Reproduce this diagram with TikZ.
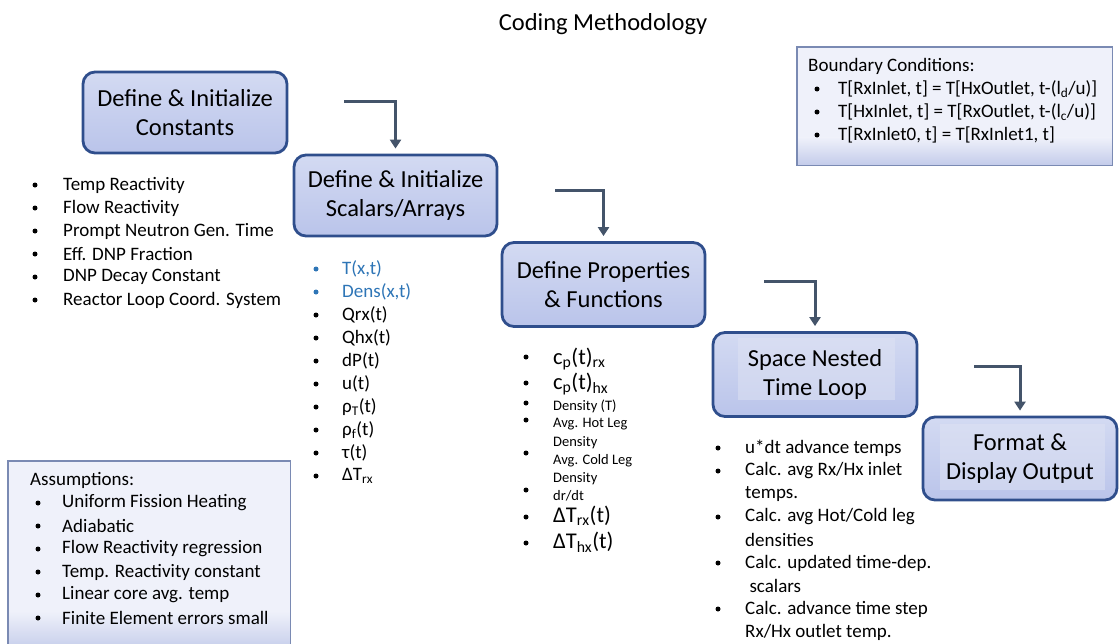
\documentclass[tikz,border=0pt]{standalone}
\usepackage{fontspec}
\setmainfont{Carlito}
\usetikzlibrary{arrows.meta}
\definecolor{boxedge}{HTML}{2F4E8C}
\definecolor{boxtop}{HTML}{D3DAF2}
\definecolor{boxmid}{HTML}{F0F2FC}
\definecolor{boxbot}{HTML}{BAC4EA}
\definecolor{noteedge}{HTML}{7A8AB3}
\definecolor{notefill}{HTML}{EFF1FA}
\definecolor{noteband}{HTML}{C3CBEA}
\definecolor{innerfill}{HTML}{DFE3F3}
\definecolor{arrowcol}{HTML}{44546A}
\definecolor{hilite}{HTML}{2E75B6}
\tikzset{
  stepbox/.style={draw=boxedge, line width=2.8pt, rounded corners=12pt,
    top color=boxtop, middle color=boxmid, bottom color=boxbot, align=center,
    font=\fontsize{24.5}{29}\selectfont, text=black},
  steptext/.style={align=center, font=\fontsize{24.5}{29}\selectfont},
  notebox/.style={fill=notefill},
  noteline/.style={draw=noteedge, line width=1.3pt},
  flow/.style={draw=arrowcol, line width=3pt,
    -{Triangle[width=11pt,length=9pt]}},
  item/.style={anchor=west, inner sep=0pt, font=\fontsize{19}{22}\selectfont},
  small/.style={anchor=west, inner sep=0pt, font=\fontsize{14.5}{16}\selectfont},
  big/.style={anchor=west, inner sep=0pt, font=\fontsize{22.5}{25}\selectfont},
  head/.style={anchor=west, inner sep=0pt, font=\fontsize{19}{22}\selectfont},
}
\begin{document}
\begin{tikzpicture}[x=1pt, y=-1pt]
\useasboundingbox (0,0) rectangle (1119,643);

% title
\node[font=\fontsize{24.5}{28}\selectfont] (title) at (603,24) {Coding Methodology};

% process steps
\node[stepbox, minimum width=204pt, minimum height=81pt] (b1) at (185,112.5) {Define \& Initialize\\Constants};
\node[stepbox, minimum width=203pt, minimum height=81pt] (b2) at (395.5,195.5) {Define \& Initialize\\Scalars/Arrays};
\node[stepbox, minimum width=203pt, minimum height=84pt] (b3) at (603.5,284.5) {Define Properties\\\& Functions};
\node[stepbox, minimum width=204pt, minimum height=84pt] (b4) at (815,374.5) {};
\fill[innerfill, opacity=0.5] (738,338) rectangle (895,400);
\node[steptext] (t4) at (b4.center) {Space Nested\\Time Loop};
\node[stepbox, minimum width=194pt, minimum height=83pt] (b5) at (1020,458.5) {};
\fill[innerfill, opacity=0.5] (940,424) rectangle (1105,490);
\node[steptext] (t5) at (b5.center) {Format \&\\Display Output};

% elbow connectors
\coordinate (a1) at (344,101);
\coordinate (a2) at (555,190);
\coordinate (a3) at (764,281);
\coordinate (a4) at (974,366);
\draw[flow] (a1) -| ([yshift=5pt]b2.north);
\draw[flow] (a2) -| ([yshift=5pt]b3.north);
\draw[flow] (a3) -| ([yshift=5pt]b4.north);
\draw[flow] (a4) -| ([yshift=5pt]b5.north);

% constants list
\foreach \t [count=\i] in {Temp Reactivity, Flow Reactivity, Prompt Neutron Gen. Time,
    Eff. DNP Fraction, DNP Decay Constant, Reactor Loop Coord. System}{
  \node[item] (c\i) at (63,{185+23*(\i-1)}) {\t};
  \fill (35,{185+23*(\i-1)}) circle (2.5);
}

% scalars / arrays list
\foreach \t/\c [count=\i] in {T(x{,}t)/hilite, Dens(x{,}t)/hilite, Qrx(t)/black, Qhx(t)/black,
    dP(t)/black, u(t)/black, ρ\textsubscript{T}(t)/black, ρ\textsubscript{f}(t)/black,
    τ(t)/black, ΔT\textsubscript{rx}/black}{
  \node[item, text=\c] (s\i) at (342,{269+23*(\i-1)}) {\t};
  \fill[\c] (316,{269+23*(\i-1)}) circle (2.5);
}

% properties list
\node[big] (p1) at (553,359) {c\textsubscript{p}(t)\textsubscript{rx}};
\node[big] (p2) at (553,384) {c\textsubscript{p}(t)\textsubscript{hx}};
\node[small] (p3) at (553,406) {Density (T)};
\node[small] (p4) at (553,424) {Avg. Hot Leg};
\node[small] (p5) at (553,443) {Density};
\node[small] (p6) at (553,461) {Avg. Cold Leg};
\node[small] (p7) at (553,479) {Density};
\node[small] (p8) at (553,496) {dr/dt};
\node[big] (p9) at (553,516) {ΔT\textsubscript{rx}(t)};
\node[big] (p10) at (553,542) {ΔT\textsubscript{hx}(t)};
\foreach \y in {357,383,403,420,453,490,517,543}{
  \fill (526,\y) circle (2.5);
}

% loop tasks list
\foreach \t/\b [count=\i] in {{u*dt advance temps}/1, {Calc. avg Rx/Hx inlet}/1, {temps.}/0,
    {Calc. avg Hot/Cold leg}/1, {densities}/0, {Calc. updated time-dep.}/1, {\ scalars}/0,
    {Calc. advance time step}/1, {Rx/Hx outlet temp.}/0}{
  \node[item] (l\i) at (745,{448+23*(\i-1)}) {\t};
  \ifnum\b=1 \fill (718,{448+23*(\i-1)}) circle (2.5); \fi
}

% boundary conditions note
\node[notebox, minimum width=315pt, minimum height=118pt, anchor=north west, inner sep=0pt] (bc) at (797,47) {};
\shade[top color=notefill, bottom color=noteband] ([yshift=28pt]bc.south west) rectangle (bc.south east);
\draw[noteline] (bc.north west) rectangle (bc.south east);
\node[head] (bch) at (808,66) {Boundary Conditions:};
\foreach \t [count=\i] in {{T[RxInlet, t] = T[HxOutlet, t-(l\textsubscript{d}/u)]},
    {T[HxInlet, t] = T[RxOutlet, t-(l\textsubscript{c}/u)]},
    {T[RxInlet0, t] = T[RxInlet1, t]}}{
  \node[item] (bc\i) at (838,{89+23*(\i-1)}) {\t};
  \fill (817,{89+23*(\i-1)}) circle (2.5);
}

% assumptions note
\node[notebox, minimum width=282pt, minimum height=190pt, anchor=north west, inner sep=0pt] (as) at (8,461) {};
\shade[top color=notefill, bottom color=noteband] ([yshift=40pt]as.south west) rectangle (as.south east);
\draw[noteline] (as.north west) rectangle (as.south east);
\node[head] (ash) at (30,480) {Assumptions:};
\foreach \t [count=\i] in {Uniform Fission Heating, Adiabatic, Flow Reactivity regression,
    Temp. Reactivity constant, Linear core avg. temp, Finite Element errors small}{
  \node[item] (as\i) at (62,{503+23*(\i-1)}) {\t};
  \fill (38,{503+23*(\i-1)}) circle (2.5);
}
\end{tikzpicture}
\end{document}
